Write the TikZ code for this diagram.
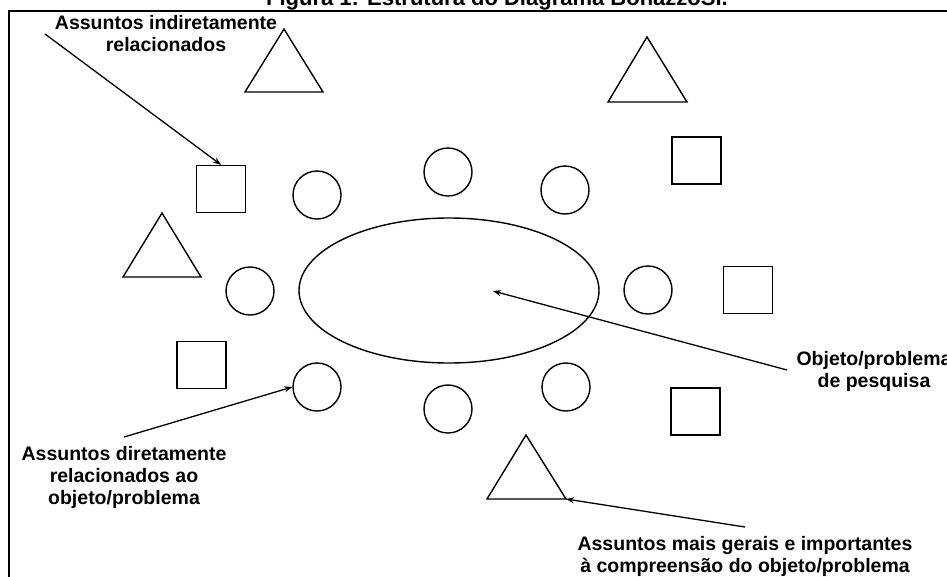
\documentclass[tikz,border=0pt]{standalone}
\usepackage{fontspec}
\setmainfont{Liberation Sans}
\usetikzlibrary{arrows.meta,shapes.geometric}
\tikzset{
  shp/.style={draw=black, line width=1.4pt, inner sep=0pt},
  circ/.style={shp, circle, minimum size=48pt},
  sq/.style={shp, rectangle, minimum width=49pt, minimum height=47pt},
  tri/.style={draw=black, line width=1.4pt, line join=miter},
  lbl/.style={font=\fontsize{19.5}{22}\selectfont\bfseries, align=center, inner sep=0pt},
  arr/.style={draw=black, line width=1.3pt, -{Stealth[length=8pt,width=6pt]}},
}
\begin{document}
\begin{tikzpicture}[x=1pt,y=-1pt]
\useasboundingbox (0,0) rectangle (947,576);
\clip (0,0) rectangle (947,576);
\fill[white] (0,0) rectangle (947,576);
% title (clipped at top, as in the reference)
\node[font=\fontsize{22}{24}\selectfont\bfseries, anchor=base, inner sep=0pt] (title) at (497,5) {Figura 1: Estrutura do Diagrama BonazzoSI.};
% frame
\draw[line width=2pt] (9,590) -- (9,11) -- (960,11);
% ellipse
\node[shp, ellipse, minimum width=300pt, minimum height=145pt] (obj) at (449,290.5) {};
\coordinate (objpt) at (493,291);
% circles
\node[circ] (c1) at (317,195) {};
\node[circ] (c2) at (448,172) {};
\node[circ] (c3) at (565,190) {};
\node[circ] (c4) at (250,291) {};
\node[circ] (c5) at (648,290) {};
\node[circ] (c6) at (317,387) {};
\node[circ] (c7) at (448,409) {};
\node[circ] (c8) at (566,387) {};
% squares
\node[sq] (s1) at (221,189) {};
\node[sq] (s2) at (696.5,160.5) {};
\node[sq] (s3) at (748,290) {};
\node[sq] (s4) at (201.5,365) {};
\node[sq] (s5) at (695.5,411.5) {};
% triangles
\coordinate (t1a) at (284,29); \coordinate (t1l) at (245,92); \coordinate (t1r) at (323,92);
\draw[tri] (t1a) -- (t1l) -- (t1r) -- cycle;
\coordinate (t2a) at (647,37); \coordinate (t2l) at (608,102); \coordinate (t2r) at (687,102);
\draw[tri] (t2a) -- (t2l) -- (t2r) -- cycle;
\coordinate (t3a) at (162,213); \coordinate (t3l) at (123,277); \coordinate (t3r) at (201,277);
\draw[tri] (t3a) -- (t3l) -- (t3r) -- cycle;
\coordinate (t4a) at (526,435); \coordinate (t4l) at (487,499); \coordinate (t4r) at (566,499);
\draw[tri] (t4a) -- (t4l) -- (t4r) -- cycle;
% labels
\node[lbl] (l1) at (166,34) {Assuntos indiretamente\\relacionados};
\node[lbl] (l2) at (124,477) {Assuntos diretamente\\relacionados ao\\objeto/problema};
\node[lbl] (l3) at (874,371) {Objeto/problema\\de pesquisa};
\node[lbl] (l4) at (745,556) {Assuntos mais gerais e importantes\\à compreensão do objeto/problema};
% arrow start points
\coordinate (a1) at (45,34);
\coordinate (a2) at (787,370);
\coordinate (a3) at (124,437);
\coordinate (a4) at (745,527);
% arrows
\draw[arr] (a1) -- (s1.north);
\draw[arr] (a2) -- (objpt);
\draw[arr] (a3) -- (c6.west);
\draw[arr] (a4) -- (t4r);
\end{tikzpicture}
\end{document}
